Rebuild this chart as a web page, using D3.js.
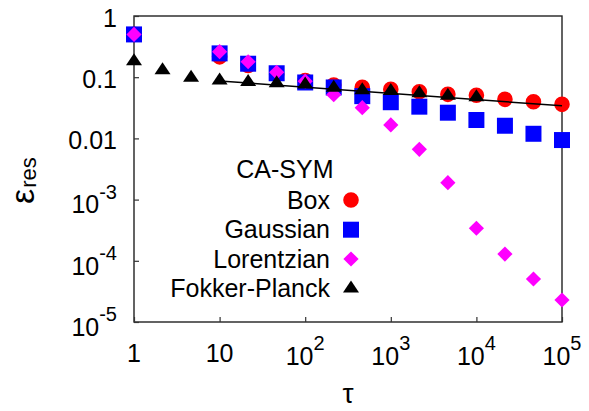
<!DOCTYPE html>
<html><head><meta charset="utf-8">
<script src="https://cdn.jsdelivr.net/npm/d3@7"></script>
<style>
html,body{margin:0;padding:0;background:#fff;}
text{font-family:"Liberation Sans",Arial,sans-serif;fill:#000;}
</style>
</head><body>
<svg id="chart" width="589" height="411"></svg>
<script>
// ---- data ----
const tauMain = [1, 10, 21.54, 46.42, 100, 215.4, 464.2, 1000, 2154, 4642, 10000, 21544, 46416, 100000];
const boxVals = [0.5, 0.215, 0.155, 0.112, 0.088, 0.0746, 0.0684, 0.0635, 0.058, 0.0525, 0.0506, 0.0435, 0.0398, 0.036];
const gaussVals = [0.5, 0.245, 0.166, 0.116, 0.082, 0.068, 0.049, 0.039, 0.033, 0.0263, 0.02, 0.0161, 0.0119, 0.0094];
const lorentzVals = [0.5, 0.261, 0.179, 0.12, 0.086, 0.0518, 0.0318, 0.0166, 0.00664, 0.00189, 0.00034, 0.000129, 0.0000504, 0.0000229];
const tauFP = [1, 2.154, 4.642, 10, 21.54, 46.42, 100, 215.4, 464.2, 1000, 2154, 4642, 10000];
const fpVals = [0.189, 0.135, 0.102, 0.092, 0.087, 0.083, 0.079, 0.070, 0.0635, 0.0617, 0.0566, 0.0518, 0.0487];
const fitTau = [10, 100000];
const fitVals = [0.0868, 0.0341];
const xTickValues = [1, 10, 100, 1000, 10000, 100000];
const xTickLabels = ["1", "10", "10^2", "10^3", "10^4", "10^5"];
const yTickValues = [1, 0.1, 0.01, 0.001, 0.0001, 0.00001];
const yTickLabels = ["1", "0.1", "0.01", "10^-3", "10^-4", "10^-5"];
const legendTitle = "CA-SYM";
const seriesNames = ["Box", "Gaussian", "Lorentzian", "Fokker-Planck"];

// ---- layout ----
const L = 134, R = 562, T = 16, B = 322;
const svg = d3.select("#chart");
const x = d3.scaleLog().domain([1, 1e5]).range([L, R]);
const y = d3.scaleLog().domain([1e-5, 1]).range([B, T]);

const FS = 25, SUP = 20;

// frame
svg.append("rect").attr("x", L).attr("y", T).attr("width", R - L).attr("height", B - T)
  .attr("fill", "none").attr("stroke", "#222").attr("stroke-width", 1.4);

// ticks (inward)
const gy = svg.append("g").attr("transform", `translate(${L},0)`)
  .call(d3.axisLeft(y).tickValues(yTickValues).tickSize(-5).tickFormat(""));
const gx = svg.append("g").attr("transform", `translate(0,${B})`)
  .call(d3.axisBottom(x).tickValues(xTickValues).tickSize(-5).tickFormat(""));
[gy, gx].forEach(g => {
  g.select(".domain").remove();
  g.selectAll(".tick line").attr("stroke", "#333").attr("stroke-width", 1.2);
});

function addLabel(parent, str, px, py, anchor) {
  const parts = str.split("^");
  const t = parent.append("text").attr("x", px).attr("y", py + (parts.length > 1 ? 3 : 0))
    .attr("text-anchor", anchor).attr("font-size", FS);
  t.append("tspan").text(parts[0]);
  if (parts.length > 1) {
    t.append("tspan").attr("font-size", SUP).attr("dy", -14.5).text(parts[1]);
  }
  return t;
}

yTickValues.forEach((v, i) => addLabel(svg, yTickLabels[i], 117, y(v) + 10.8, "end"));
xTickValues.forEach((v, i) => addLabel(svg, xTickLabels[i], x(v), 361.5, "middle"));

// axis titles
svg.append("text").attr("x", (L + R) / 2).attr("y", 403).attr("text-anchor", "middle")
  .attr("font-size", 28).text("τ");
const yt = svg.append("text").attr("transform", "translate(34,204) rotate(-90)");
yt.append("tspan").attr("font-size", 34).text("ε");
yt.append("tspan").attr("font-size", 22).attr("dy", 2).attr("dx", 1).text("res");

// marker shapes
function markerPath(kind) {
  if (kind === 0) return d3.symbol(d3.symbolCircle, Math.PI * 7.8 * 7.8)();
  if (kind === 1) return "M-8,-8H8V8H-8Z";
  if (kind === 2) return "M0,-7.6L7.6,0L0,7.6L-7.6,0Z";
  return "M0,-7L8,5H-8Z";
}
const colors = ["#ff0000", "#0000ff", "#ff00ff", "#000000"];

function drawSeries(xs, ys, kind) {
  svg.append("g").selectAll("path").data(xs.map((d, i) => [d, ys[i]])).join("path")
    .attr("d", markerPath(kind))
    .attr("transform", d => `translate(${x(d[0])},${y(d[1])})`)
    .attr("fill", colors[kind]);
}
drawSeries(tauMain, boxVals, 0);
drawSeries(tauMain, gaussVals, 1);
drawSeries(tauMain, lorentzVals, 2);
drawSeries(tauFP, fpVals, 3);

// fit line
svg.append("path").datum(fitTau.map((d, i) => [d, fitVals[i]]))
  .attr("d", d3.line().x(d => x(d[0])).y(d => y(d[1])))
  .attr("fill", "none").attr("stroke", "#000").attr("stroke-width", 1.5);

// legend
svg.append("text").attr("x", 333.5).attr("y", 178).attr("text-anchor", "end")
  .attr("font-size", FS).text(legendTitle);
const rowBase = [208.5, 238, 267.5, 297];
const rowMark = [200, 229.7, 259, 287.5];
seriesNames.forEach((n, i) => {
  svg.append("text").attr("x", 330).attr("y", rowBase[i]).attr("text-anchor", "end")
    .attr("font-size", FS).text(n);
  svg.append("path").attr("d", markerPath(i)).attr("transform", `translate(351,${rowMark[i]})`)
    .attr("fill", colors[i]);
});
</script>
</body></html>
